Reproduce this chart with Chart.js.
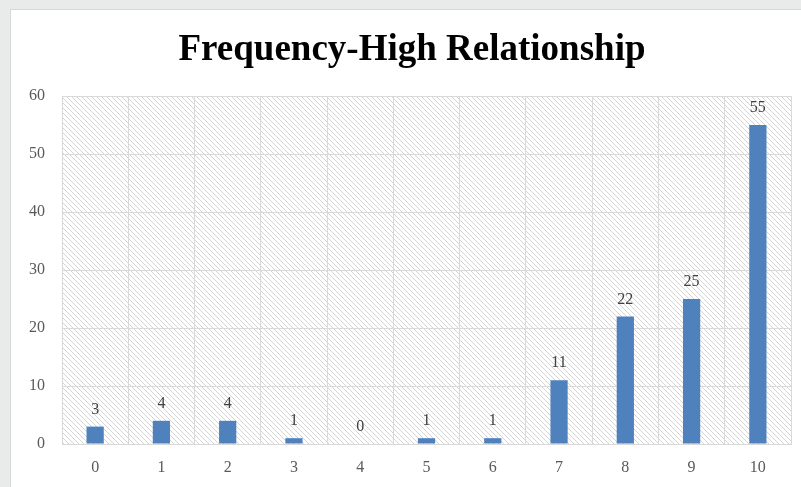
<!DOCTYPE html>
<html>
<head>
<meta charset="utf-8">
<script src="https://cdn.jsdelivr.net/npm/chart.js@4.4.1/dist/chart.umd.min.js"></script>
<style>
  html, body { margin: 0; padding: 0; }
  body { width: 801px; height: 487px; background: #e9ebeb; position: relative; overflow: hidden; }
  #card { position: absolute; left: 10px; top: 9px; width: 820px; height: 520px; background: #fff; border: 1px solid #d6d8d8; }
  #wrap { position: absolute; left: 0; top: 0; width: 801px; height: 487px; }
</style>
</head>
<body>
<div id="card"></div>
<div id="wrap"><canvas id="chart"></canvas></div>
<script>
// chart data
const categories = ['0', '1', '2', '3', '4', '5', '6', '7', '8', '9', '10'];
const frequency = [3, 4, 4, 1, 0, 1, 1, 11, 22, 25, 55];
const yTicks = [0, 10, 20, 30, 40, 50, 60];
const chartTitle = 'Frequency-High Relationship';

const serif = "'Liberation Serif', 'Times New Roman', serif";

// diagonal hatch behind the plot area
const hatchPlugin = {
    id: 'hatch',
    beforeDraw(chart) {
        const { ctx, chartArea } = chart;
        const tile = document.createElement('canvas');
        tile.width = 5;
        tile.height = 5;
        const t = tile.getContext('2d');
        t.strokeStyle = '#d4d4d4';
        t.lineWidth = 1;
        t.beginPath();
        t.moveTo(-1, -1); t.lineTo(6, 6);
        t.moveTo(-1, 4); t.lineTo(1, 6);
        t.moveTo(4, -1); t.lineTo(6, 1);
        t.stroke();
        ctx.save();
        ctx.fillStyle = ctx.createPattern(tile, 'repeat');
        ctx.fillRect(chartArea.left, chartArea.top, chartArea.right - chartArea.left, chartArea.bottom - chartArea.top);
        ctx.restore();
    }
};

// title centred on the white card rather than the canvas
const cardTitle = {
    id: 'cardTitle',
    afterDraw(chart) {
        const { ctx } = chart;
        ctx.save();
        ctx.font = 'bold 37px ' + serif;
        ctx.fillStyle = '#000';
        ctx.textAlign = 'center';
        ctx.textBaseline = 'alphabetic';
        ctx.fillText(chartTitle, 412, 60);
        ctx.restore();
    }
};

// value labels on top of bars
const valueLabels = {
    id: 'valueLabels',
    afterDatasetsDraw(chart) {
        const { ctx } = chart;
        const meta = chart.getDatasetMeta(0);
        ctx.save();
        ctx.font = '16px ' + serif;
        ctx.fillStyle = '#404040';
        ctx.textAlign = 'center';
        ctx.textBaseline = 'bottom';
        meta.data.forEach((bar, i) => {
            ctx.fillText(String(frequency[i]), bar.x, bar.y - 9);
        });
        ctx.restore();
    }
};

const ctx = document.getElementById('chart').getContext('2d');
new Chart(ctx, {
    type: 'bar',
    data: {
        labels: categories,
        datasets: [{
            label: 'Frequency',
            data: frequency,
            backgroundColor: '#4f81bd',
            barPercentage: 0.26,
            categoryPercentage: 1
        }]
    },
    options: {
        responsive: true,
        maintainAspectRatio: false,
        animation: false,
        layout: { padding: { left: 0, right: 10, top: 96, bottom: 0 } },
        plugins: {
            legend: { display: false },
            tooltip: { enabled: false },
            title: { display: false }
        },
        scales: {
            x: {
                grid: { color: '#d9d9d9', drawTicks: false, offset: true },
                border: { color: '#d9d9d9' },
                ticks: { color: '#595959', font: { family: serif, size: 16 }, padding: 14 },
                afterFit(scale) { scale.height = 43; }
            },
            y: {
                min: 0,
                max: 60,
                afterBuildTicks(scale) { scale.ticks = yTicks.map(v => ({ value: v })); },
                grid: { color: '#d9d9d9', drawTicks: false },
                border: { color: '#d9d9d9' },
                ticks: { color: '#595959', font: { family: serif, size: 16 }, padding: 17 },
                afterFit(scale) { scale.width = 62; }
            }
        }
    },
    plugins: [hatchPlugin, valueLabels, cardTitle]
});
</script>
</body>
</html>
